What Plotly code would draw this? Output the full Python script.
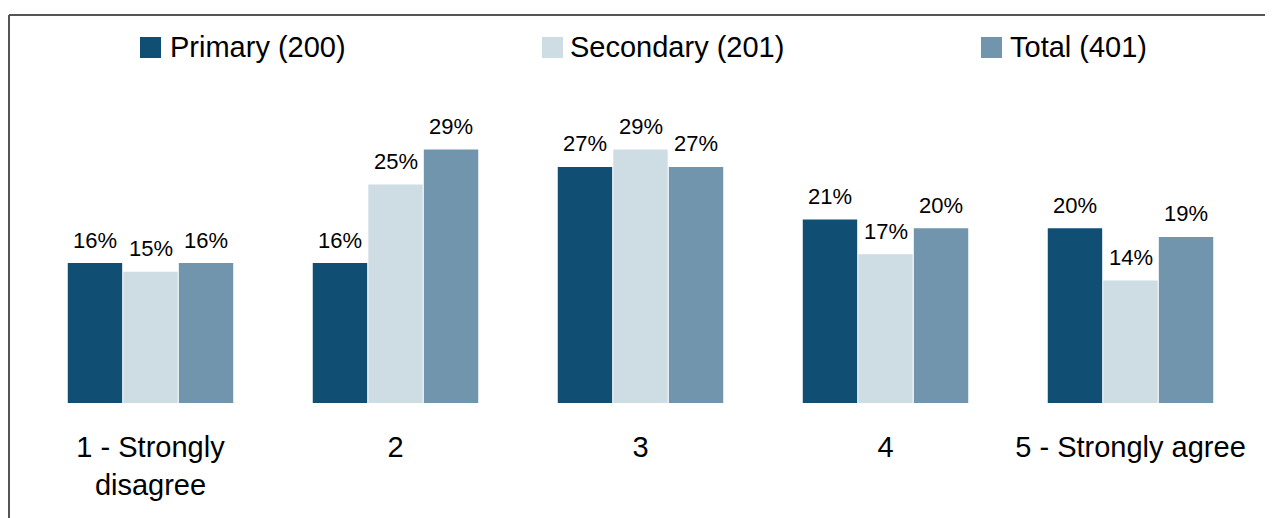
import plotly.graph_objects as go

categories = ["1 - Strongly<br>disagree", "2", "3", "4", "5 - Strongly agree"]
series_names = ["Primary (200)", "Secondary (201)", "Total (401)"]
primary = [16, 16, 27, 21, 20]
secondary = [15, 25, 29, 17, 14]
total = [16, 29, 27, 20, 19]
series_values = [primary, secondary, total]
colors = ["#114E74", "#CEDCE4", "#7195AD"]

# page offset of the figure inside the browser window (body margin)
OFF = 8
W, H = 1273 - OFF, 518 - OFF
ML, MR, MT, MB = 20, 20, 89, 115
PW, PH = W - ML - MR, H - MT - MB
FONT = "Liberation Sans, Arial, sans-serif"


def xp(px):
    # px given in window pixels
    return (px - OFF - ML) / PW


def yp(py):
    return (H - MB - (py - OFF)) / PH


fig = go.Figure()
for name, vals, col in zip(series_names, series_values, colors):
    fig.add_trace(go.Bar(x=categories, y=vals, name=name, marker_color=col,
                         marker_line_width=0, showlegend=False))

annotations = []
slot = PW / len(categories) * (1 - 0.32) / 3
for i, vals in enumerate(series_values):
    for j, v in enumerate(vals):
        annotations.append(dict(x=j, y=v, xref="x", yref="y", text=f"{v}%",
                                showarrow=False, xshift=(i - 1) * slot, yshift=23,
                                yanchor="middle", font=dict(size=22, color="#000000", family=FONT)))

# manual legend
legend_sq_x = [140, 542, 981]
legend_txt_x = [168, 568, 1008]
legend_y = 47.5
shapes = []
for name, col, sx, tx in zip(series_names, colors, legend_sq_x, legend_txt_x):
    shapes.append(dict(type="rect", xref="paper", yref="paper",
                       x0=xp(sx), x1=xp(sx + 21), y0=yp(legend_y + 10.5), y1=yp(legend_y - 10.5),
                       fillcolor=col, line_width=0))
    annotations.append(dict(x=xp(tx), y=yp(legend_y), xref="paper", yref="paper", text=name,
                            showarrow=False, xanchor="left", yanchor="middle",
                            font=dict(size=29, color="#000000", family=FONT)))

# frame lines (top and left)
shapes.append(dict(type="line", xref="paper", yref="paper", x0=xp(9), x1=xp(1280),
                   y0=yp(15), y1=yp(15), line=dict(color="#555555", width=2)))
shapes.append(dict(type="line", xref="paper", yref="paper", x0=xp(9), x1=xp(9),
                   y0=yp(15), y1=yp(525), line=dict(color="#555555", width=2)))

fig.update_layout(
    width=W, height=H,
    margin=dict(l=ML, r=MR, t=MT, b=MB, pad=0),
    barmode="group", bargap=0.32, bargroupgap=0.02,
    plot_bgcolor="white", paper_bgcolor="white",
    font=dict(family=FONT, color="#000000"),
    annotations=annotations, shapes=shapes,
    xaxis=dict(showgrid=False, showline=False, zeroline=False, ticks="outside",
               ticklen=18, tickcolor="rgba(0,0,0,0)",
               tickfont=dict(size=29, family=FONT, color="#000000")),
    yaxis=dict(range=[0, 35], visible=False, showgrid=False, zeroline=False),
)

fig.write_html("out.html")
